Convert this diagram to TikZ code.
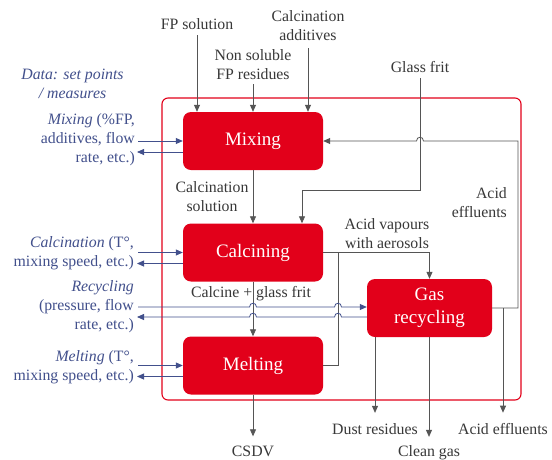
\documentclass[tikz,border=0pt]{standalone}
\usepackage{fontspec}
\setmainfont{Liberation Serif}
\newfontfamily\lserif{Liberation Serif}
\usetikzlibrary{arrows.meta,calc}
\definecolor{boxred}{RGB}{226,0,26}
\definecolor{dblue}{RGB}{66,80,140}
\definecolor{lgray}{RGB}{85,85,85}
\begin{document}
\begin{tikzpicture}[x=1pt,y=-1pt,
  proc/.style={fill=boxred, draw=none, rounded corners=8pt, text=white,
    font=\lserif\fontsize{19}{23}\selectfont, align=center, inner sep=0pt,
    minimum width=140pt, minimum height=58pt},
  lbl/.style={font=\lserif\fontsize{15.8}{19}\selectfont, text=black!78, align=center, inner sep=0pt},
  blbl/.style={font=\lserif\fontsize{15.8}{19}\selectfont, text=dblue, align=right, inner sep=0pt},
  flow/.style={draw=lgray, line width=0.8pt, -{Triangle[length=7pt,width=6pt]}},
  link/.style={draw=lgray, line width=0.8pt},
  sig/.style={draw=dblue, line width=0.8pt, -{Triangle[length=7pt,width=6pt]}}
]
\useasboundingbox (0,0) rectangle (552,459);
\fill[white] (0,0) rectangle (552,459);
% outer frame
\draw[boxred, line width=1.1pt, rounded corners=6pt] (162,98) rectangle (521,400);
% process boxes
\node[proc] (mix)  at (253,141) {Mixing};
\node[proc] (calc) at (253,252.5) {Calcining};
\node[proc] (melt) at (253,365.5) {Melting};
\node[proc, minimum width=125pt] (gas) at (429.5,308) {Gas\\recycling};
% black labels (anchor base = baseline of last line)
\node[lbl, anchor=base] (fp)   at (197,29) {FP solution};
\node[lbl, anchor=base] (nsr)  at (253,79) {Non soluble\\FP residues};
\node[lbl, anchor=base] (cadd) at (308,40) {Calcination\\additives};
\node[lbl, anchor=base] (gf)   at (420,72) {Glass frit};
\node[lbl, anchor=base] (csol) at (212,211) {Calcination\\solution};
\node[lbl, anchor=base] (cgf)  at (251,297) {Calcine + glass frit};
\node[lbl, anchor=base] (avap) at (387,248) {Acid vapours\\with aerosols};
\node[lbl, anchor=base east, align=right] (aeff) at (507,217) {Acid\\effluents};
\node[lbl, anchor=base] (dust)  at (375,434) {Dust residues};
\node[lbl, anchor=base] (cgas)  at (429,456) {Clean gas};
\node[lbl, anchor=base] (aeff2) at (503,434) {Acid effluents};
\node[lbl, anchor=base] (csdv)  at (253,456) {CSDV};
% blue labels
\node[blbl, align=center, anchor=base, font=\lserif\fontsize{15.8}{19}\selectfont\itshape] (data) at (72.5,98) {Data: set points\\/ measures};
\node[blbl, anchor=base east] (lmix)  at (135,162) {\textit{Mixing} (\%FP,\\additives, flow\\rate, etc.)};
\node[blbl, anchor=base east] (lcalc) at (134,266) {\textit{Calcination} (T°,\\mixing speed, etc.)};
\node[blbl, anchor=base east] (lrec)  at (134,329) {\textit{Recycling}\\(pressure, flow\\rate, etc.)};
\node[blbl, anchor=base east] (lmelt) at (134,380) {\textit{Melting} (T°,\\mixing speed, etc.)};
% inputs
\draw[flow] ([yshift=-6pt]fp.south) -- (fp.south |- mix.north);
\draw[flow] ([yshift=-5pt]nsr.south) -- (nsr.south |- mix.north);
\draw[flow] ([yshift=-8pt]cadd.south) -- (cadd.south |- mix.north);
% glass frit
\draw[flow] ([yshift=-6pt]gf.south) -- (gf.south |- 0,190) -- (302,190) -- (302,0 |- calc.north);
% main chain
\draw[flow] (mix.south) -- (calc.north);
\draw[flow] (calc.south) -- (melt.north);
\draw[flow, shorten >=9pt] (melt.south) -- (csdv.north);
% acid vapours
\draw[flow] (calc.east) -- (gas.north |- calc.east) -- (gas.north);
\draw[link] (melt.east) -- (338,0 |- melt.east) -- (338,0 |- calc.east);
% feedback acid effluents
\draw[flow] (gas.east) -- (518,0 |- gas.east) -- (518,0 |- mix.east) -- (423.5,0 |- mix.east)
  .. controls (423.5,136) and (416.5,136) .. (416.5,0 |- mix.east) -- (mix.east);
\draw[flow, shorten >=10pt] (aeff2.north |- gas.east) -- (aeff2.north);
% gas outputs
\draw[flow, shorten >=10pt] (dust.north |- gas.south) -- (dust.north);
\draw[flow, shorten >=8pt] (cgas.north |- gas.south) -- (cgas.north);
% blue data arrows
\draw[sig] ($(lmix.east |- mix.west)+(3,0)$) -- (mix.west);
\draw[sig] ($(mix.west)+(0,11)$) -- ($(lmix.east |- mix.west)+(2,11)$);
\draw[sig] ($(lcalc.east |- calc.west)+(4,0)$) -- (calc.west);
\draw[sig] ($(calc.west)+(0,11)$) -- ($(lcalc.east |- calc.west)+(3,11)$);
\draw[sig] ($(lmelt.east |- melt.west)+(4,0)$) -- (melt.west);
\draw[sig] ($(melt.west)+(0,11)$) -- ($(lmelt.east |- melt.west)+(3,11)$);
% recycling data arrows with hops
\draw[sig] ($(lrec.east |- gas.west)+(4,-1)$) -- (249.5,307)
  .. controls (249.5,302) and (256.5,302) .. (256.5,307) -- (334.5,307)
  .. controls (334.5,302) and (341.5,302) .. (341.5,307) -- ($(gas.west)+(0,-1)$);
\draw[sig] ($(gas.west)+(0,9)$) -- (341.5,317)
  .. controls (341.5,312) and (334.5,312) .. (334.5,317) -- (256.5,317)
  .. controls (256.5,312) and (249.5,312) .. (249.5,317) -- ($(lrec.east |- gas.west)+(3,9)$);
\end{tikzpicture}
\end{document}
